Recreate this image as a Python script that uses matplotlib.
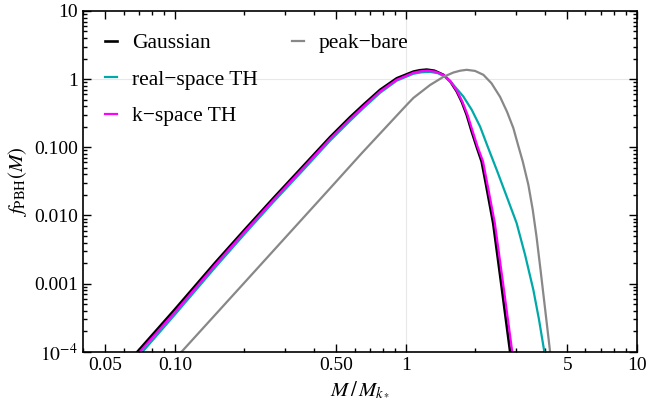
import matplotlib
matplotlib.use("Agg")
import matplotlib.pyplot as plt
from matplotlib.lines import Line2D
from matplotlib.ticker import LogLocator, FixedLocator, FixedFormatter, NullFormatter

plt.rcParams['font.family'] = ['Liberation Serif', 'DejaVu Serif']
plt.rcParams['mathtext.fontset'] = 'stix'

# Gaussian
x_gauss = [0.0689, 0.1, 0.15, 0.2, 0.267, 0.35, 0.471, 0.574, 0.655, 0.774, 0.914, 1.079, 1.15, 1.233,
           1.33, 1.455, 1.56, 1.663, 1.75, 1.836, 1.93, 2.03, 2.13, 2.227, 2.39, 2.60, 2.83]
y_gauss = [1e-4, 4.17e-4, 0.00205, 0.0061, 0.0179, 0.048, 0.142, 0.277, 0.42, 0.697, 1.03, 1.29, 1.35, 1.38,
           1.33, 1.157, 0.92, 0.658, 0.46, 0.299, 0.17, 0.100, 0.0618, 0.0281, 0.0077, 9e-4, 1e-4]

# k-space TH
x_kth = [0.0705, 0.1, 0.15, 0.2, 0.267, 0.35, 0.471, 0.574, 0.655, 0.774, 0.914, 1.079, 1.15, 1.24,
         1.34, 1.46, 1.57, 1.67, 1.76, 1.85, 1.95, 2.05, 2.16, 2.26, 2.43, 2.65, 2.89]
y_kth = [1e-4, 3.8e-4, 0.0019, 0.0057, 0.0168, 0.045, 0.134, 0.26, 0.395, 0.66, 0.98, 1.24, 1.30, 1.33,
         1.29, 1.15, 0.91, 0.66, 0.46, 0.30, 0.17, 0.100, 0.062, 0.028, 0.0077, 9e-4, 1e-4]

# real-space TH
x_rth = [0.0725, 0.1, 0.15, 0.2, 0.267, 0.35, 0.471, 0.574, 0.655, 0.774, 0.914, 1.079, 1.17, 1.27,
         1.38, 1.48, 1.607, 1.775, 1.93, 2.098, 2.276, 2.485, 2.736, 3.02, 3.285, 3.567, 3.776, 3.98]
y_rth = [1e-4, 3.5e-4, 0.00175, 0.0053, 0.0157, 0.042, 0.126, 0.245, 0.375, 0.63, 0.95, 1.2, 1.26, 1.28,
         1.22, 1.08, 0.824, 0.556, 0.355, 0.201, 0.0971, 0.0451, 0.0189, 0.0077, 0.00264, 8.1e-4, 2.94e-4, 1e-4]

# peak-bare
x_peak = [0.107, 0.2, 0.467, 0.645, 1.01, 1.079, 1.274, 1.455, 1.607, 1.72, 1.836, 1.995, 2.168, 2.35,
          2.56, 2.745, 2.923, 3.07, 3.21, 3.395, 3.546, 3.683, 3.833, 4.03, 4.215]
y_peak = [1e-4, 0.00103, 0.0244, 0.082, 0.42, 0.53, 0.82, 1.08, 1.25, 1.33, 1.37, 1.32, 1.157, 0.87,
          0.55, 0.331, 0.191, 0.105, 0.0618, 0.0281, 0.0121, 0.00485, 0.00158, 3.7e-4, 1e-4]

labels = ["Gaussian", "real\u2212space TH", "k\u2212space TH", "peak\u2212bare"]
colors = ["black", "#00A9A9", "#FF00FF", "#888888"]

x_ticks = [0.05, 0.10, 0.50, 1, 5, 10]
x_ticklabels = ["0.05", "0.10", "0.50", "1", "5", "10"]
y_ticks = [1e-4, 1e-3, 1e-2, 1e-1, 1, 10]
y_ticklabels = [r"$10^{-4}$", "0.001", "0.010", "0.100", "1", "10"]

fig = plt.figure(figsize=(6.48, 4.13), dpi=100)
ax = fig.add_axes([0.128, 0.1484, 0.8546, 0.825])

ax.axvline(1, color="#e8e8e8", lw=0.8, zorder=0)
ax.axhline(1, color="#e8e8e8", lw=0.8, zorder=0)

series = [(x_gauss, y_gauss), (x_rth, y_rth), (x_kth, y_kth), (x_peak, y_peak)]
widths = [1.9, 1.6, 1.6, 1.6]
handles = []
for (xs, ys), lab, c, w in zip(series, labels, colors, widths):
    h, = ax.plot(xs, ys, color=c, lw=w, label=lab, solid_joinstyle='round')
    handles.append(h)

ax.set_xscale('log')
ax.set_yscale('log')
ax.set_xlim(0.04, 10)
ax.set_ylim(1e-4, 10)

ax.xaxis.set_major_locator(FixedLocator(x_ticks))
ax.xaxis.set_major_formatter(FixedFormatter(x_ticklabels))
ax.xaxis.set_minor_locator(LogLocator(base=10, subs=range(2, 10), numticks=20))
ax.xaxis.set_minor_formatter(NullFormatter())
ax.yaxis.set_major_locator(FixedLocator(y_ticks))
ax.yaxis.set_major_formatter(FixedFormatter(y_ticklabels))
ax.yaxis.set_minor_locator(LogLocator(base=10, subs=range(2, 10), numticks=20))
ax.yaxis.set_minor_formatter(NullFormatter())

ax.tick_params(which='both', direction='in', top=True, right=True, labelsize=14, width=1.0)
ax.tick_params(which='major', length=6)
ax.tick_params(which='minor', length=3)
for s in ax.spines.values():
    s.set_linewidth(1.2)

ax.set_xlabel(r"$M\,/\,M_{k_*}$", fontsize=15)
ax.set_ylabel(r"$f_{\mathrm{PBH}}(M)$", fontsize=15)

blank = Line2D([], [], lw=0, alpha=0)
leg_handles = handles[:3] + [handles[3], blank, blank]
leg_labels = labels[:3] + [labels[3], "", ""]
ax.legend(leg_handles, leg_labels, ncol=2, loc='upper left', frameon=False,
          fontsize=15.5, handlelength=0.55, handletextpad=0.7, columnspacing=1.6,
          labelspacing=0.76, borderpad=0, borderaxespad=0, bbox_to_anchor=(0.04, 0.935))

fig.savefig("out.png", dpi=100)
